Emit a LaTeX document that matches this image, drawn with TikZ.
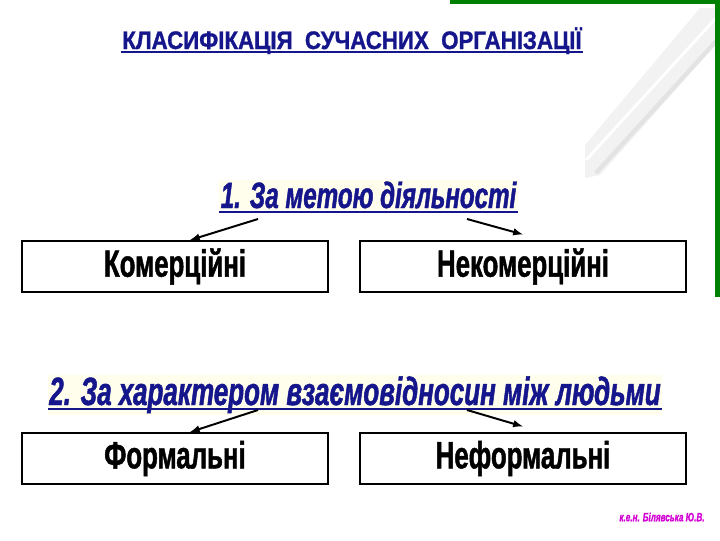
\documentclass[tikz,border=0pt]{standalone}
\usepackage{fontspec}
\setmainfont{Liberation Sans}
\newfontfamily\imp[FakeStretch=0.68,FakeBold=1.2]{Liberation Sans}
\newfontfamily\impk[FakeStretch=0.66,FakeBold=1.2]{Liberation Sans}
\newfontfamily\impt[FakeStretch=0.88,FakeBold=1.2]{Liberation Sans}
\usetikzlibrary{arrows}
\usetikzlibrary{positioning}
\definecolor{navy}{RGB}{22,22,140}
\definecolor{grn}{RGB}{0,128,0}
\definecolor{mag}{RGB}{210,0,210}

\begin{document}
\begin{tikzpicture}[x=0.025cm,y=-0.025cm,
  kop/.style={navy,inner sep=1pt,anchor=base,font=\impk\bfseries\itshape\fontsize{27}{32}\selectfont,fill=yellow!7},
  vak/.style={draw,line width=1.4pt,minimum height=1.27cm,inner sep=0pt,font=\imp\bfseries\fontsize{27}{32}\selectfont},
  pijl/.style={->,>=latex,line width=1.4pt}]

\useasboundingbox (0,0) rectangle (720,540);

\fill[gray!10] (700,8) -- (720,8) -- (720,40) -- (600,175) -- (585,178) -- (585,145) -- cycle;
\draw[white,line width=2pt] (716,18) -- (586,160);
\draw[gray!22,line width=3pt] (719,38) -- (596,173);
\draw[grn,line width=3.5pt] (450,1.5) -- (717.5,1.5) -- (717.5,297);

\node[navy,anchor=base,inner sep=1pt,font=\impt\bfseries\fontsize{18}{22}\selectfont] (t) at (352,49) {КЛАСИФІКАЦІЯ\ \ СУЧАСНИХ\ \ ОРГАНІЗАЦІЇ};
\draw[navy,line width=1.2pt] ([yshift=-2pt]t.base west) -- ([yshift=-2pt]t.base east);

\node[kop,font=\impk\bfseries\itshape\fontsize{26}{31}\selectfont] (a) at (368.5,208) {1. За метою діяльності};
\draw[navy,line width=1.4pt] ([yshift=-2.5pt]a.base west) -- ([yshift=-2.5pt]a.base east);
\node[vak,minimum width=7.65cm] (b) at (175,266.5) {Комерційні};
\node[vak,minimum width=8.15cm] (c) at (523,266.5) {Некомерційні};

\node[kop,font=\impk\bfseries\itshape\fontsize{28}{33}\selectfont] (d) at (355,405) {2. За характером взаємовідносин між людьми};
\draw[navy,line width=1.4pt] ([yshift=-2.5pt]d.base west) -- ([yshift=-2.5pt]d.base east);
\node[vak,minimum width=7.65cm] (e) at (175,458.5) {Формальні};
\node[vak,minimum width=8.15cm] (f) at (523,458.5) {Неформальні};

\coordinate (p) at (258,219);
\coordinate (q) at (467,219);
\coordinate (r) at (258,410);
\coordinate (s) at (467,410);

\path
(p) edge[pijl] ([xshift=10.6pt]b.north)
(q) edge[pijl] ([yshift=4pt]c.north)
(r) edge[pijl] ([xshift=10.6pt]e.north)
(s) edge[pijl] ([yshift=4pt]f.north);

\node[mag,font=\imp\bfseries\itshape\fontsize{8.5}{10}\selectfont] (g) at (662,517) {к.е.н. Білявська Ю.В.};
\end{tikzpicture}
\end{document}
